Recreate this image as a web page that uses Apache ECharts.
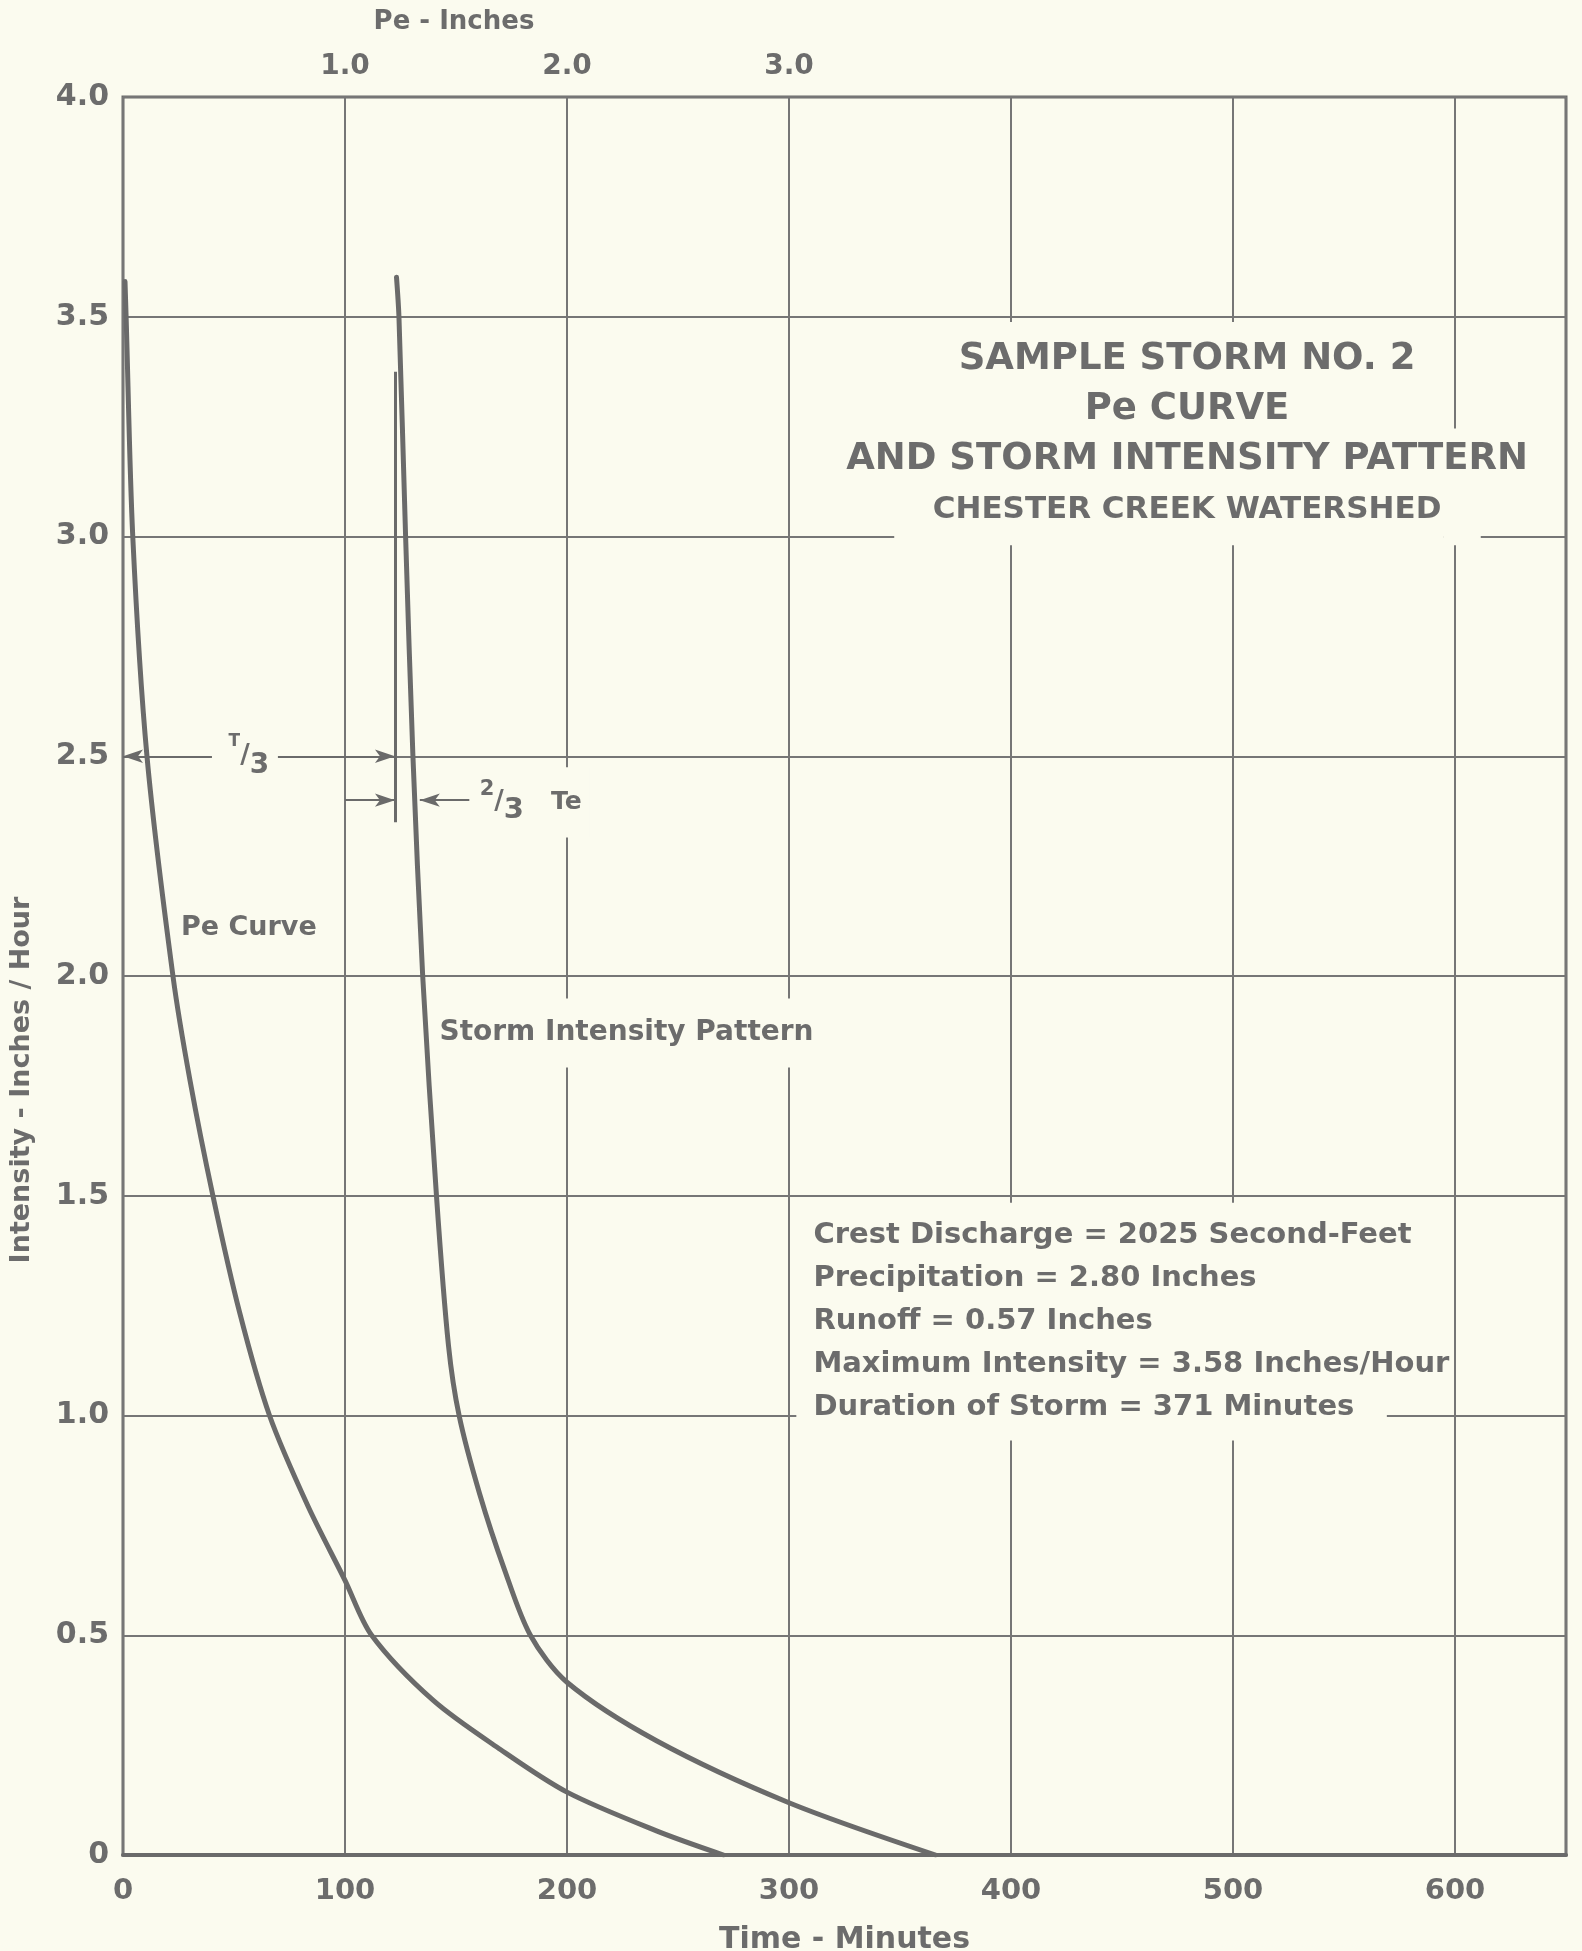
<!DOCTYPE html>
<html>
<head>
<meta charset="utf-8">
<script src="https://cdn.jsdelivr.net/npm/echarts@6/dist/echarts.min.js"></script>
<style>
  html, body { margin: 0; padding: 0; background: #fbfbef; }
  #chart { width: 1582px; height: 1951px; }
</style>
</head>
<body>
<div id="chart"></div>
<script>
// ---- Data ----
// Pe curve (plotted against the top axis, Pe in inches)
const peInches    = [0.009, 0.014, 0.044, 0.108, 0.225, 0.302, 0.405, 0.525, 0.660, 0.833, 1.000, 1.120, 1.399, 1.700, 2.000, 2.403, 2.705];
const peIntensity = [3.58,  3.50,  3.00,  2.50,  2.00,  1.762, 1.50,  1.235, 1.00,  0.794, 0.625, 0.50,  0.351, 0.240, 0.143, 0.055, 0.000];
// Storm intensity pattern (time in minutes)
const stormMinutes   = [123.2, 124.3, 127.3, 130.6, 135.0, 141.2, 146.6, 151.4, 160.7, 171.8, 183.5, 200.0, 240.3, 300.0, 366.0];
const stormIntensity = [3.59,  3.50,  3.00,  2.50,  2.00,  1.50,  1.16,  1.00,  0.821, 0.650, 0.500, 0.393, 0.260, 0.119, 0.000];
// Annotation values
const tThirdSpan   = [0, 122.5];      // T/3 dimension, minutes
const tThirdLevel  = 2.5;
const teMarkX      = 122.5;           // 2/3 Te marker line
const teMarkRange  = [2.35, 3.375];
const teLevel      = 2.4;
const teLeftArrow  = [100, 122.5];
const teRightArrow = [156, 133.7];
// Tick labels
const bottomTickLabels = ['0', '100', '200', '300', '400', '500', '600'];
const topTickLabels    = ['1.0', '2.0', '3.0'];
const leftTickLabels   = ['0', '0.5', '1.0', '1.5', '2.0', '2.5', '3.0', '3.5', '4.0'];
const statsLines = [
  'Crest Discharge = 2025 Second-Feet',
  'Precipitation = 2.80 Inches',
  'Runoff = 0.57 Inches',
  'Maximum Intensity = 3.58 Inches/Hour',
  'Duration of Storm = 371 Minutes'
];
const titleLines = ['SAMPLE STORM NO. 2', 'Pe CURVE', 'AND STORM INTENSITY PATTERN', 'CHESTER CREEK WATERSHED'];

// ---- Styles ----
const BG = '#fbfbef';
const INK = '#6a6a6a';
const GRID = '#767676';
const TXT = '#6c6c6c';
const FONT = 'DejaVu Sans';

const chart = echarts.init(document.getElementById('chart'), null, { renderer: 'canvas' });

const pePairs = peInches.map((x, i) => [x, peIntensity[i]]);
const stormPairs = stormMinutes.map((x, i) => [x, stormIntensity[i]]);

function pt(x, y, symbol) { return { coord: [x, y], symbol: symbol }; }

const labelBase = { show: true, color: TXT, fontFamily: FONT, fontWeight: 'bold' };
const richBase = { fontWeight: 'bold', color: TXT, fontFamily: FONT };
function rs(o) { return Object.assign({}, richBase, o); }

const option = {
  backgroundColor: BG,
  animation: false,
  textStyle: { fontFamily: FONT },
  grid: {
    left: 123, top: 97, right: 16, bottom: 96,
    containLabel: false, outerBoundsMode: 'none',
    show: true, borderColor: INK, borderWidth: 3, backgroundColor: 'transparent'
  },
  xAxis: [
    {
      type: 'value', min: 0, max: 650, interval: 100, position: 'bottom',
      name: 'Time - Minutes', nameLocation: 'middle', nameGap: 70,
      nameTextStyle: { fontSize: 30, fontWeight: 'bold', color: TXT, fontFamily: FONT },
      axisLine: { show: true, lineStyle: { color: INK, width: 4 } },
      axisTick: { show: false },
      axisLabel: {
        margin: 22, fontSize: 29, fontWeight: 'bold', color: TXT, fontFamily: FONT, showMaxLabel: false,
        formatter: v => { const i = Math.round(v / 100); return (v % 100 === 0 && i < bottomTickLabels.length) ? bottomTickLabels[i] : ''; }
      },
      splitLine: { show: true, lineStyle: { color: GRID, width: 2 } }
    },
    {
      type: 'value', min: 0, max: 6.5, interval: 1, position: 'top',
      axisLine: { show: false }, axisTick: { show: false }, splitLine: { show: false },
      axisLabel: {
        margin: 16, fontSize: 28, fontWeight: 'bold', color: TXT, fontFamily: FONT, showMaxLabel: false,
        formatter: v => { const i = Math.round(v) - 1; return (Math.abs(v - Math.round(v)) < 1e-6 && i >= 0 && i < topTickLabels.length) ? topTickLabels[i] : ''; }
      }
    }
  ],
  yAxis: [
    {
      type: 'value', min: 0, max: 4, interval: 0.5,
      axisLine: { show: false }, axisTick: { show: false },
      axisLabel: {
        margin: 14, fontSize: 30, fontWeight: 'bold', color: TXT, fontFamily: FONT,
        formatter: v => leftTickLabels[Math.round(v / 0.5)]
      },
      splitLine: { show: true, lineStyle: { color: GRID, width: 2 } }
    }
  ],
  graphic: [
    { type: 'text', x: 454, y: 22, style: { text: 'Pe - Inches', fill: TXT, font: 'bold 26px "DejaVu Sans"', align: 'center', verticalAlign: 'middle' } },
    { type: 'text', x: 22, y: 1080, rotation: Math.PI / 2, style: { text: 'Intensity - Inches / Hour', fill: TXT, font: 'bold 27px "DejaVu Sans"', align: 'center', verticalAlign: 'middle' } }
  ],
  series: [
    // masks that break the grid lines behind the lettering
    {
      type: 'line', data: [], z: 1, silent: true, xAxisIndex: 0, yAxisIndex: 0,
      markArea: {
        silent: true, z: 1,
        itemStyle: { color: BG, opacity: 1, borderWidth: 0 },
        label: { show: false },
        data: [
          [{ coord: [347.4, 2.98] }, { coord: [595, 3.488] }],
          [{ coord: [595, 2.98] }, { coord: [611.6, 3.246] }],
          [{ coord: [303.3, 0.943] }, { coord: [569.3, 1.484] }],
          [{ coord: [185, 1.792] }, { coord: [315, 1.949] }],
          [{ coord: [190, 2.315] }, { coord: [210, 2.475] }],
          [{ coord: [40, 2.47] }, { coord: [69.8, 2.53] }]
        ]
      }
    },
    {
      name: 'Pe Curve', type: 'line', xAxisIndex: 1, yAxisIndex: 0, z: 3,
      data: pePairs, showSymbol: false, smooth: 0.3,
      lineStyle: { color: INK, width: 5, cap: 'round', join: 'round' }
    },
    {
      name: 'Storm Intensity Pattern', type: 'line', xAxisIndex: 0, yAxisIndex: 0, z: 3,
      data: stormPairs, showSymbol: false, smooth: 0.3,
      lineStyle: { color: INK, width: 5, cap: 'round', join: 'round' }
    },
    // annotations
    {
      name: 'annotations', type: 'line', data: [], xAxisIndex: 0, yAxisIndex: 0, z: 4, silent: true,
      markLine: {
        silent: true, z: 5,
        symbol: ['none', 'none'], symbolSize: [10, 20],
        label: { show: false },
        lineStyle: { color: INK, width: 2, type: 'solid' },
        emphasis: { disabled: true },
        data: [
          [pt(tThirdSpan[0], tThirdLevel, 'arrow'), pt(40, tThirdLevel, 'none')],
          [pt(69.8, tThirdLevel, 'none'), pt(tThirdSpan[1], tThirdLevel, 'arrow')],
          [pt(teLeftArrow[0], teLevel, 'none'), pt(teLeftArrow[1], teLevel, 'arrow')],
          [pt(teRightArrow[0], teLevel, 'none'), pt(teRightArrow[1], teLevel, 'arrow')],
          [Object.assign(pt(teMarkX, teMarkRange[0], 'none'), { lineStyle: { width: 3, color: INK } }), pt(teMarkX, teMarkRange[1], 'none')]
        ]
      },
      markPoint: {
        silent: true, z: 6,
        symbol: 'circle', symbolSize: 0,
        itemStyle: { color: 'transparent' },
        data: [
          { coord: [56.7, 2.11], label: Object.assign({}, labelBase, { position: 'inside', align: 'center', verticalAlign: 'middle', fontSize: 27, formatter: 'Pe Curve' }) },
          { coord: [226.8, 1.871], label: Object.assign({}, labelBase, { position: 'inside', align: 'center', verticalAlign: 'middle', fontSize: 28, formatter: 'Storm Intensity Pattern' }) },
          { coord: [56.7, tThirdLevel], label: Object.assign({}, labelBase, {
              position: 'inside', align: 'center', verticalAlign: 'middle',
              formatter: '{sup|T}{sl|/}{sub|3}',
              rich: {
                sup: rs({ fontSize: 17, lineHeight: 18, verticalAlign: 'top' }),
                sl:  rs({ fontSize: 26, lineHeight: 46, verticalAlign: 'middle' }),
                sub: rs({ fontSize: 28, lineHeight: 28, verticalAlign: 'bottom' })
              } }) },
          { coord: [160.7, 2.395], label: Object.assign({}, labelBase, {
              position: 'inside', align: 'left', verticalAlign: 'middle',
              formatter: '{sup|2}{sl|/}{sub|3}{te|Te}',
              rich: {
                sup: rs({ fontSize: 21, lineHeight: 20, verticalAlign: 'top' }),
                sl:  rs({ fontSize: 26, lineHeight: 46, verticalAlign: 'middle' }),
                sub: rs({ fontSize: 29, lineHeight: 28, verticalAlign: 'bottom' }),
                te:  rs({ fontSize: 25, lineHeight: 30, verticalAlign: 'middle', padding: [0, 0, 0, 27] })
              } }) },
          { coord: [479.3, 3.232], label: Object.assign({}, labelBase, {
              position: 'inside', align: 'center', verticalAlign: 'middle',
              formatter: titleLines.map((t, i) => (i < 3 ? '{t|' : '{s|') + t + '}').join('\n'),
              rich: {
                t: rs({ fontSize: 37, lineHeight: 50, align: 'center' }),
                s: rs({ fontSize: 31, lineHeight: 50, align: 'center' })
              } }) },
          { coord: [311, 1.2146], label: Object.assign({}, labelBase, {
              position: 'inside', align: 'left', verticalAlign: 'middle',
              fontSize: 29, lineHeight: 43, formatter: statsLines.join('\n') }) }
        ]
      }
    }
  ]
};

chart.setOption(option);
</script>
</body>
</html>
